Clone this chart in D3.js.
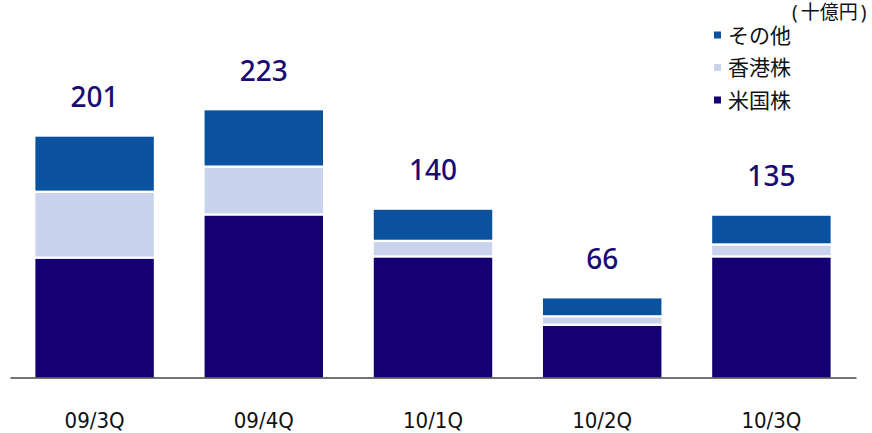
<!DOCTYPE html>
<html>
<head>
<meta charset="utf-8">
<script src="https://cdn.jsdelivr.net/npm/d3@7"></script>
<style>
  body { margin: 0; background: #fff; }
  text { font-family: "Noto Sans", "Noto Sans CJK JP", sans-serif; }
</style>
</head>
<body>
<div id="chart"></div>
<script>
// data (十億円)
var quarters = ["09/3Q", "09/4Q", "10/1Q", "10/2Q", "10/3Q"]
var usStocks = [100, 136, 101, 44, 101]
var hkStocks = [55, 40, 13, 7, 10]
var others   = [46, 47, 26, 15, 24]
var totals   = [201, 223, 140, 66, 135]

var seriesNames = ["米国株", "香港株", "その他"]
var colors = ["#150073", "#c9d3ee", "#0a52a0"]

var width = 872, height = 433
var baseY = 377.5

var svg = d3.select("#chart").append("svg")
	.attr("width", width)
	.attr("height", height)

var x = d3.scaleBand()
	.domain(quarters)
	.range([10, 856])
	.paddingInner(0.3)
	.paddingOuter(0.15)

var y = d3.scaleLinear()
	.domain([0, 250])
	.range([baseY, baseY - 299.5])

var rows = quarters.map(function(q, i) {
	return {q: q, "米国株": usStocks[i], "香港株": hkStocks[i], "その他": others[i], total: totals[i]}
})

var stack = d3.stack().keys(seriesNames)(rows)
var gap = 1.2

svg.append("g")
	.selectAll("g")
	.data(stack)
	.enter().append("g")
		.attr("fill", function(d, i) { return colors[i] })
	.selectAll("rect")
	.data(function(d) { return d })
	.enter().append("rect")
		.attr("x", function(d) { return x(d.data.q) })
		.attr("width", x.bandwidth())
		.attr("y", function(d) {
			var top = d[1] >= d.data.total
			return y(d[1]) + (top ? 0 : gap)
		})
		.attr("height", function(d) {
			var top = d[1] >= d.data.total
			var h = y(d[0]) - y(d[1])
			if (!top) h -= gap
			if (d[0] > 0) h -= gap
			return Math.max(0, h)
		})

// axis
var axis = svg.append("g")
	.attr("transform", "translate(0," + baseY + ")")
	.call(d3.axisBottom(x).tickSize(0).tickSizeOuter(0))

axis.select(".domain")
	.attr("stroke", "#444")
	.attr("stroke-width", 1.5)

axis.selectAll("text")
	.attr("y", 50)
	.attr("dy", 0)
	.attr("fill", "#111")
	.style("font-family", "'Liberation Sans Narrow', 'DejaVu Sans Condensed', 'Noto Sans', sans-serif")
	.style("font-size", "22px")

// totals
svg.append("g")
	.selectAll("text")
	.data(rows)
	.enter().append("text")
		.attr("x", function(d) { return x(d.q) + x.bandwidth() / 2 })
		.attr("y", function(d) { return y(d.total) - 29.5 })
		.attr("text-anchor", "middle")
		.attr("fill", "#1a0a73")
		.style("font-size", "28px")
		.style("font-weight", 500)
		.text(function(d) { return d.total })

// legend (top to bottom: その他, 香港株, 米国株)
var legendItems = seriesNames.slice().reverse()
var legendColors = colors.slice().reverse()

var legend = svg.append("g")
	.selectAll("g")
	.data(legendItems)
	.enter().append("g")
		.attr("transform", function(d, i) { return "translate(714," + (35 + i * 32.5) + ")" })

legend.append("rect")
	.attr("x", 0)
	.attr("y", -3.5)
	.attr("width", 7)
	.attr("height", 7)
	.attr("fill", function(d, i) { return legendColors[i] })

legend.append("text")
	.attr("x", 14)
	.attr("y", 0)
	.attr("dy", "0.36em")
	.attr("fill", "#111")
	.style("font-size", "21px")
	.text(function(d) { return d })

var unit = svg.append("text")
	.attr("x", 792)
	.attr("y", 19)
	.attr("fill", "#111")
	.style("font-size", "19px")

unit.append("tspan").text("(")
unit.append("tspan").attr("dx", 3).text("十億円")
unit.append("tspan").attr("dx", 3).text(")")
</script>
</body>
</html>
